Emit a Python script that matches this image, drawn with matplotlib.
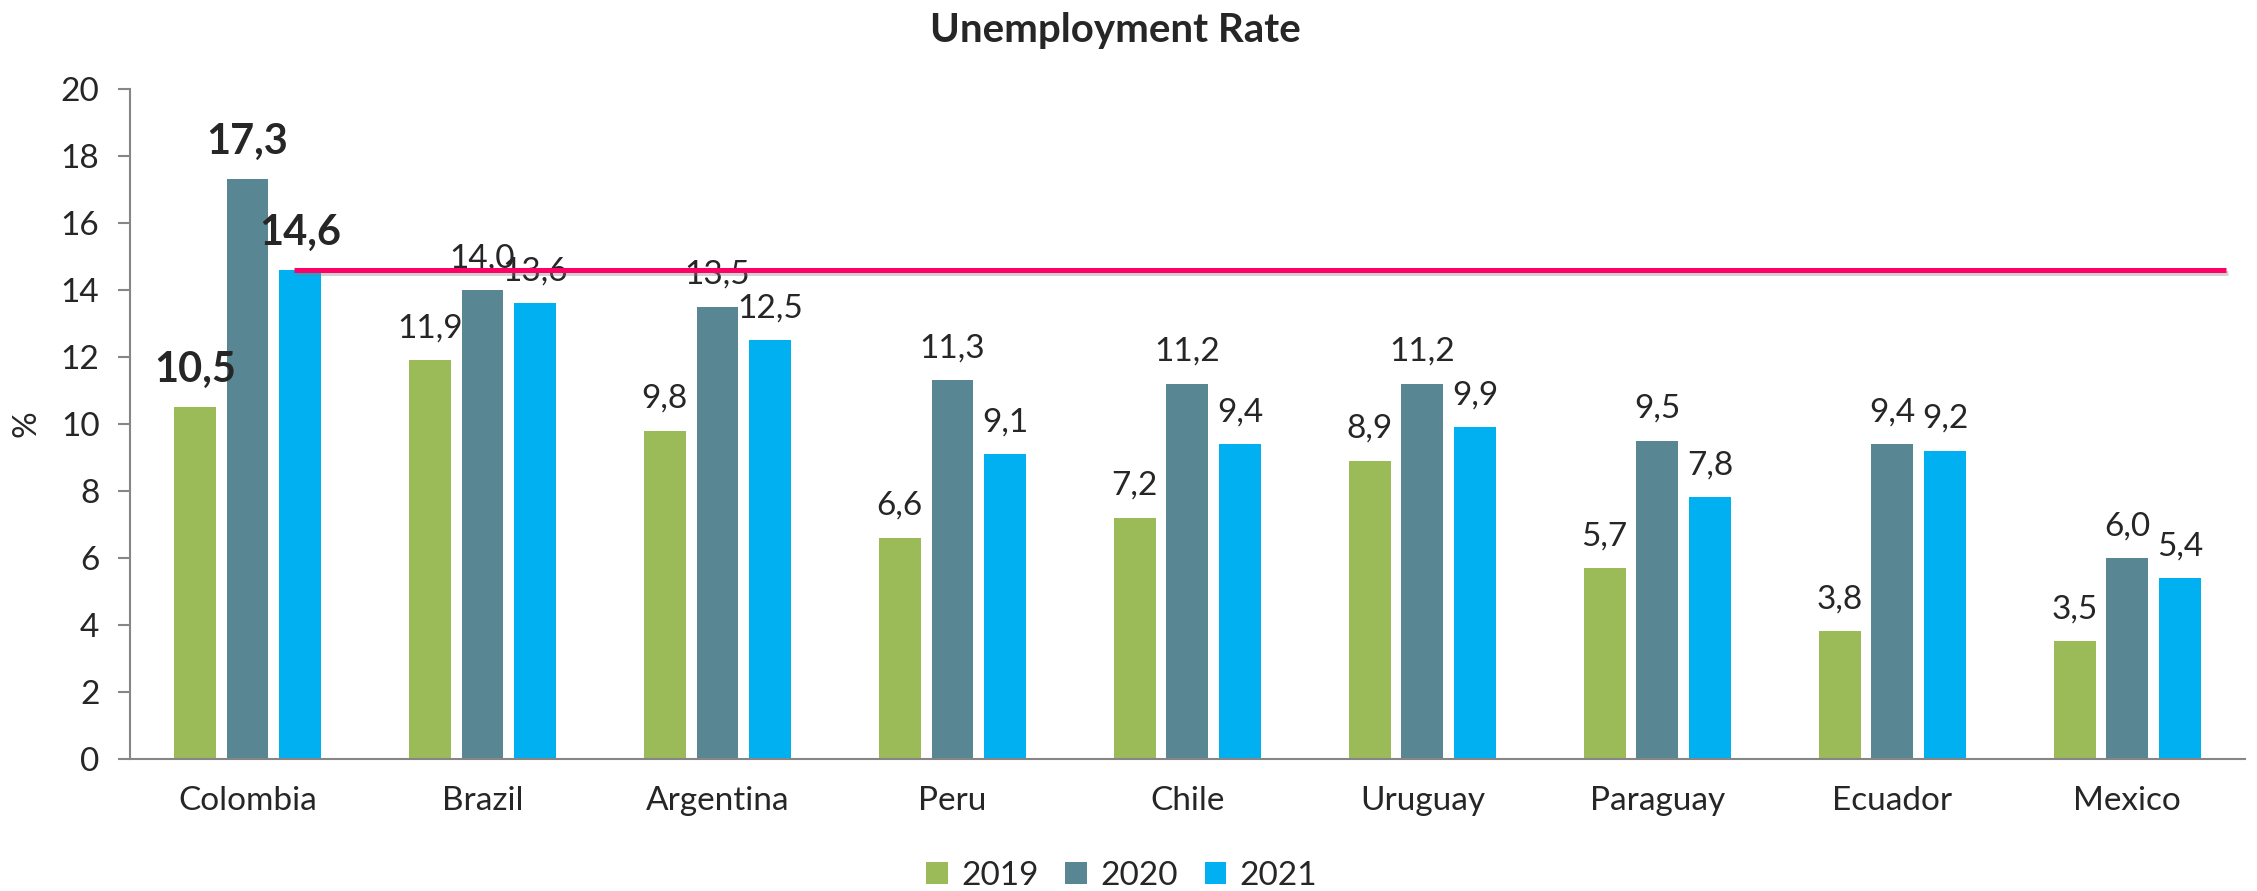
import matplotlib.pyplot as plt
import matplotlib.patheffects as pe
import numpy as np

plt.rcParams['font.family'] = ['Lato', 'DejaVu Sans']

countries = ['Colombia', 'Brazil', 'Argentina', 'Peru', 'Chile', 'Uruguay', 'Paraguay', 'Ecuador', 'Mexico']
years = ['2019', '2020', '2021']
rate_2019 = [10.5, 11.9, 9.8, 6.6, 7.2, 8.9, 5.7, 3.8, 3.5]
rate_2020 = [17.3, 14.0, 13.5, 11.3, 11.2, 11.2, 9.5, 9.4, 6.0]
rate_2021 = [14.6, 13.6, 12.5, 9.1, 9.4, 9.9, 7.8, 9.2, 5.4]
ref_level = 14.6  # Colombia 2021

colors = ['#9BBB59', '#588793', '#00B0F0']
series = [rate_2019, rate_2020, rate_2021]
txt_col = '#262626'
fs = 24

fig = plt.figure(figsize=(22.57, 8.91), dpi=100)
ax = fig.add_axes([0.0576, 0.1486, 0.937, 0.7514])

x = np.arange(len(countries))
step = 0.224
width = 0.178

for i, (vals, col, yr) in enumerate(zip(series, colors, years)):
    pos = x + (i - 1) * step
    ax.bar(pos, vals, width=width, color=col, label=yr, zorder=2)
    for j, (p, v) in enumerate(zip(pos, vals)):
        txt = f'{v:.1f}'.replace('.', ',')
        if j == 0:
            ax.annotate(txt, (p, v), xytext=(0, 13), textcoords='offset points',
                        ha='center', va='bottom', fontsize=30, fontweight='bold',
                        color=txt_col, zorder=3)
        else:
            ax.annotate(txt, (p, v), xytext=(0, 12), textcoords='offset points',
                        ha='center', va='bottom', fontsize=fs,
                        color=txt_col, zorder=3)

# reference line at Colombia's 2021 level
ax.plot([0.2, 8.42], [ref_level, ref_level], color='#FF0066', lw=3.6, zorder=4,
        solid_capstyle='butt',
        path_effects=[pe.SimpleLineShadow(offset=(1.5, -2.5), shadow_color='gray', alpha=0.35),
                      pe.Normal()])

ax.set_xlim(-0.5, len(countries) - 0.5)
ax.set_ylim(0, 20)
ax.set_yticks(np.arange(0, 21, 2))
ax.set_xticks(x)
ax.set_xticklabels(countries)
ax.tick_params(axis='x', length=0, pad=20, labelsize=fs, labelcolor=txt_col)
ax.tick_params(axis='y', length=9, width=1.5, color='#868686', pad=13,
               labelsize=fs, labelcolor=txt_col)

for s in ['top', 'right']:
    ax.spines[s].set_visible(False)
for s in ['left', 'bottom']:
    ax.spines[s].set_color('#868686')
    ax.spines[s].set_linewidth(1.5)

ax.set_ylabel('%', fontsize=fs, color=txt_col, labelpad=14)
fig.text(0.494, 0.966, 'Unemployment Rate', ha='center', va='center',
         fontsize=29, fontweight='bold', color=txt_col)

fig.legend(loc='center', bbox_to_anchor=(0.497, 0.017), ncol=3, frameon=False,
           fontsize=fs, handlelength=0.65, handleheight=0.65, handletextpad=0.4,
           columnspacing=0.8, labelcolor=txt_col)

fig.savefig('out.png', dpi=100)
